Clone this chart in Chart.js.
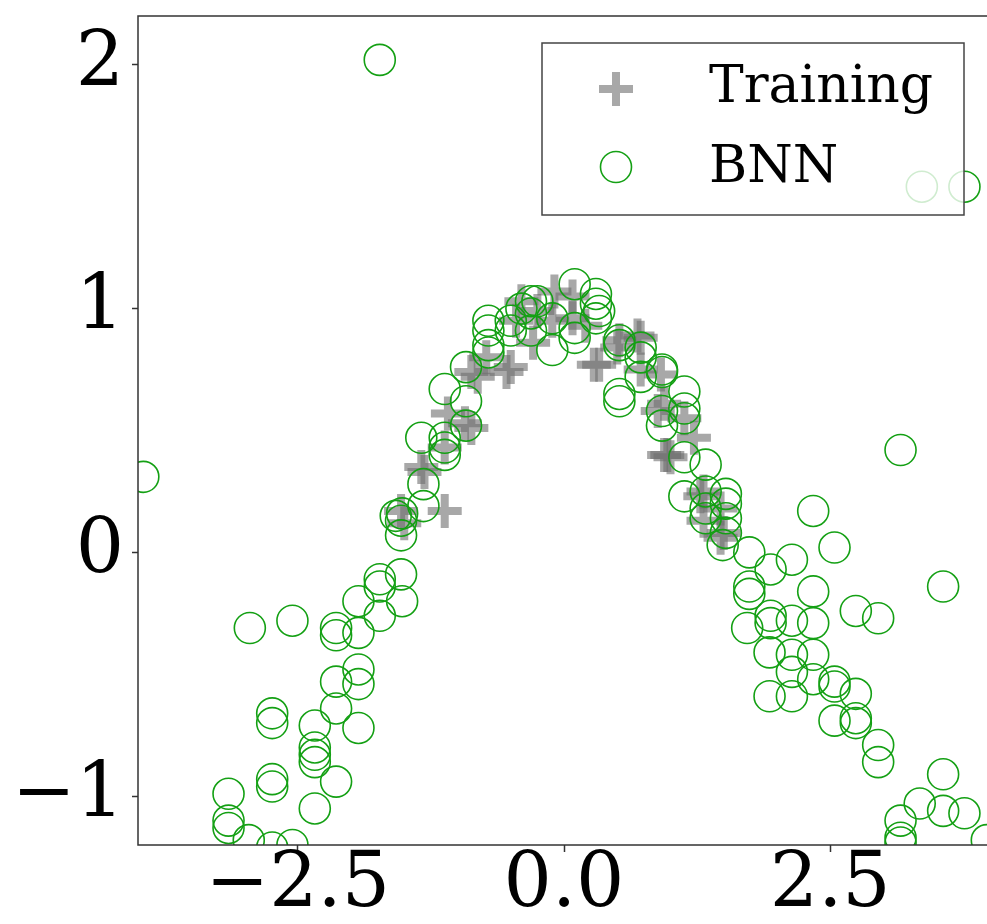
<!DOCTYPE html>
<html>
<head>
<meta charset="utf-8">
<script src="https://cdn.jsdelivr.net/npm/chart.js"></script>
<style>
  html, body { margin: 0; padding: 0; background: #fff; overflow: hidden; }
  #wrap { width: 992px; height: 924px; }
</style>
</head>
<body>
<div id="wrap"><canvas id="chart" width="992" height="924"></canvas></div>
<script>
// axis ticks
var xTicks = [-2.5, 0, 2.5];
var yTicks = [-1, 0, 1, 2];

// training points (grey crosses)
var trainX = [-1.53, -1.50, -1.34, -1.31, -1.12, -1.12, -1.09, -0.93, -0.87, -0.81, -0.73, -0.87,
  -0.54, -0.50, -0.45, -0.40, -0.29, -0.25, -0.09, -0.11, 0.08, 0.08, 0.20, 0.28, 0.33, 0.50,
  0.52, 0.69, 0.72, 0.72, 0.88, 0.91, 0.94, 0.94, 0.97, 1.00, 1.13, 1.22, 1.28, 1.31, 1.47,
  1.47, 1.50, 1.31];
var trainY = [0.17, 0.12, 0.35, 0.33, 0.17, 0.43, 0.57, 0.53, 0.51, 0.72, 0.80, 0.74,
  0.74, 0.76, 0.95, 1.03, 0.86, 0.99, 1.07, 0.95, 0.96, 1.05, 0.93, 0.77, 0.77, 0.84,
  0.87, 0.89, 0.88, 0.75, 0.58, 0.73, 0.61, 0.40, 0.40, 0.39, 0.55, 0.47, 0.23, 0.25, 0.18,
  0.06, 0.08, 0.13];

// BNN predictions (green circles)
var bnnX = [-3.95, -1.73, -1.32, -1.32, -1.52, -1.53, -1.53, -1.58, -1.53, -1.73, -1.73, -1.52,
  -1.73, -1.93, -1.93, -2.14, -2.14, -2.55, -2.95, -1.93, -1.93, -2.14, -2.14, -1.93, -2.74,
  -2.74, -2.34, -2.34, -2.34, -2.34, -2.14, -2.74, -2.74, -2.34, -3.15, -3.15, -3.15, -2.96,
  -2.74, -2.55, -1.34, -1.12, -1.12, -1.12, -0.92, -0.92, -0.92, -1.12, -0.71, -0.71, -0.71,
  -0.71, -0.50, -0.50, -0.31, -0.31, -0.31, -0.11, -0.11, 0.10, 0.10, 0.10, 0.30, 0.30, 0.30,
  -0.25, -0.40, 0.33, 0.52, 0.52, 0.72, 0.72, 0.92, 0.92, 0.52, 0.52, 0.72, 1.13, 1.13, 0.92,
  1.13, 0.92, 1.13, 1.33, 1.13, 1.33, 1.33, 1.52, 1.52, 1.52, 1.33, 1.52, 1.49, 1.74, 1.94,
  2.14, 1.74, 1.74, 1.72, 1.94, 1.94, 2.14, 2.34, 2.34, 2.34, 2.54, 2.74, 2.95, 3.16, 3.56,
  1.93, 2.14, 2.14, 2.34, 2.34, 1.93, 2.14, 2.54, 2.54, 2.74, 2.54, 2.74, 2.74, 2.95, 2.95,
  3.56, 3.34, 3.56, 3.76, 3.16, 3.16, 3.16, 3.97, 3.36, 3.76];
var bnnY = [0.31, 2.02, 0.28, 0.19, 0.16, 0.13, 0.07, 0.15, -0.09, -0.11, -0.14, -0.20,
  -0.26, -0.20, -0.33, -0.31, -0.34, -0.28, -0.31, -0.48, -0.54, -0.53, -0.64, -0.72, -0.66,
  -0.70, -0.71, -0.80, -0.83, -0.86, -0.94, -0.93, -0.96, -1.05, -0.99, -1.10, -1.13, -1.18,
  -1.21, -1.20, 0.47, 0.47, 0.43, 0.40, 0.52, 0.62, 0.76, 0.67, 0.82, 0.85, 0.95,
  0.91, 0.95, 0.91, 1.03, 0.98, 0.91, 0.83, 0.96, 1.10, 0.92, 0.88, 1.06, 1.02, 0.96,
  1.03, 1.00, 0.99, 0.87, 0.85, 0.84, 0.80, 0.75, 0.74, 0.65, 0.62, 0.72, 0.66, 0.59, 0.52,
  0.55, 0.58, 0.39, 0.36, 0.23, 0.25, 0.18, 0.24, 0.20, 0.14, 0.14, 0.08, 0.03, 0.00, -0.07,
  -0.03, -0.14, -0.17, -0.31, -0.26, -0.29, -0.28, -0.16, -0.29, 0.17, 0.02, -0.24, -0.27, 0.42, -0.14,
  -0.41, -0.42, -0.49, -0.42, -0.52, -0.59, -0.59, -0.53, -0.55, -0.58, -0.69, -0.68, -0.70, -0.79, -0.86,
  -0.91, -1.03, -1.06, -1.07, -1.10, -1.17, -1.19, -1.18, 1.50, 1.50];

var trainColor = 'rgba(110,110,110,0.6)';
var bnnColor = '#14a014';
var serif = '"DejaVu Serif", serif';

function toPoints(xs, ys) {
  return xs.map(function (x, i) { return { x: x, y: ys[i] }; });
}

function fmtTick(v, digits) {
  var s = digits ? v.toFixed(digits) : String(v);
  return s.replace('-', '\u2212');
}

// frame round the plot area, like matplotlib spines
var framePlugin = {
  id: 'frame',
  afterDatasetsDraw: function (chart) {
    var a = chart.chartArea, ctx = chart.ctx;
    ctx.save();
    ctx.strokeStyle = '#333';
    ctx.lineWidth = 1.5;
    ctx.strokeRect(a.left, a.top, a.right - a.left, a.bottom - a.top);
    ctx.restore();
  }
};

// legend box in the upper right, drawn over the points
var legendPlugin = {
  id: 'boxLegend',
  afterDraw: function (chart) {
    var a = chart.chartArea, ctx = chart.ctx;
    var right = a.right - 26, top = a.top + 27, w = 422, h = 172;
    var left = right - w;
    ctx.save();
    ctx.fillStyle = 'rgba(255,255,255,0.8)';
    ctx.fillRect(left, top, w, h);
    ctx.strokeStyle = '#444';
    ctx.lineWidth = 1.5;
    ctx.strokeRect(left, top, w, h);

    var mx = left + 74;
    // Training marker
    ctx.strokeStyle = trainColor;
    ctx.lineWidth = 8;
    ctx.beginPath();
    ctx.moveTo(mx, top + 29); ctx.lineTo(mx, top + 63);
    ctx.moveTo(mx - 17, top + 46); ctx.lineTo(mx + 17, top + 46);
    ctx.stroke();
    // BNN marker
    ctx.strokeStyle = bnnColor;
    ctx.lineWidth = 1.6;
    ctx.beginPath();
    ctx.arc(mx, top + 124, 15.5, 0, Math.PI * 2);
    ctx.stroke();

    ctx.fillStyle = '#000';
    ctx.font = '52px ' + serif;
    ctx.textBaseline = 'alphabetic';
    ctx.textAlign = 'left';
    ctx.fillText(chart.data.datasets[0].label, left + 167, top + 59);
    ctx.fillText(chart.data.datasets[1].label, left + 167, top + 139);
    ctx.restore();
  }
};

new Chart(document.getElementById('chart'), {
  type: 'scatter',
  data: {
    datasets: [{
      label: 'Training',
      data: toPoints(trainX, trainY),
      pointStyle: 'cross',
      pointRadius: 17,
      pointBorderWidth: 8,
      borderColor: trainColor,
      backgroundColor: trainColor,
      order: 2
    }, {
      label: 'BNN',
      data: toPoints(bnnX, bnnY),
      pointStyle: 'circle',
      pointRadius: 15.5,
      pointBorderWidth: 1.6,
      borderColor: bnnColor,
      backgroundColor: 'rgba(0,0,0,0)',
      order: 1
    }]
  },
  options: {
    responsive: false,
    animation: false,
    events: [],
    layout: { autoPadding: false, padding: { top: 16, right: 2, left: 0, bottom: 0 } },
    plugins: {
      legend: { display: false },
      tooltip: { enabled: false }
    },
    scales: {
      x: {
        type: 'linear',
        min: -4,
        max: 4,
        afterBuildTicks: function (s) { s.ticks = xTicks.map(function (v) { return { value: v }; }); },
        afterFit: function (s) { s.height = 79; s.paddingLeft = 0; s.paddingRight = 0; },
        border: { display: false },
        grid: { drawOnChartArea: false, drawTicks: true, tickLength: 7, tickColor: '#333', tickWidth: 1.5 },
        ticks: {
          color: '#000',
          padding: -11,
          maxRotation: 0,
          font: { family: serif, size: 76 },
          callback: function (v) { return fmtTick(v, 1); }
        }
      },
      y: {
        type: 'linear',
        min: -1.2,
        max: 2.2,
        afterBuildTicks: function (s) { s.ticks = yTicks.map(function (v) { return { value: v }; }); },
        afterFit: function (s) { s.width = 138; s.paddingTop = 0; s.paddingBottom = 0; },
        border: { display: false },
        grid: { drawOnChartArea: false, drawTicks: true, tickLength: 6, tickColor: '#333', tickWidth: 1.5 },
        ticks: {
          color: '#000',
          padding: 8,
          font: { family: serif, size: 76 },
          callback: function (v) { return fmtTick(v, 0); }
        }
      }
    }
  },
  plugins: [framePlugin, legendPlugin]
});
</script>
</body>
</html>
